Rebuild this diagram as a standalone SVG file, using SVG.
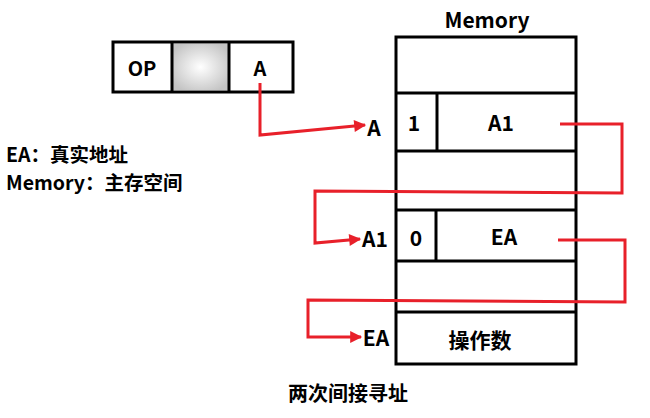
<svg xmlns="http://www.w3.org/2000/svg" width="650" height="418" viewBox="0 0 650 418">
<style>
.t{font-family:"Noto Sans CJK SC","Noto Sans",sans-serif;font-weight:bold;fill:#000;}
.c{text-anchor:middle;}
.box{fill:#fff;stroke:#000;stroke-width:3;}
.ln{stroke:#000;stroke-width:3;fill:none;}
.r{stroke:#e8202a;stroke-width:3;fill:none;stroke-linejoin:miter;}
</style>
<defs>
<radialGradient id="g" cx="50%" cy="50%" r="60%">
<stop offset="0" stop-color="#ffffff"/>
<stop offset="1" stop-color="#c4c4c4"/>
</radialGradient>
<marker id="ar" viewBox="0 0 10 10" refX="9" refY="5" markerWidth="4.5" markerHeight="4" orient="auto" markerUnits="strokeWidth">
<path d="M0,0 L10,5 L0,10 z" fill="#e8202a"/>
</marker>
</defs>
<g id="instruction">
<rect class="box" x="113" y="42" width="180" height="50"/>
<rect x="173" y="44" width="55" height="46" fill="url(#g)"/>
<line class="ln" x1="172" y1="42" x2="172" y2="92"/>
<line class="ln" x1="229" y1="42" x2="229" y2="92"/>
<text class="t c" x="142" y="76" font-size="20">OP</text>
<text class="t c" x="260" y="76" font-size="20">A</text>
</g>
<g id="legend">
<text class="t" x="6" y="162" font-size="19.5">EA：真实地址</text>
<text class="t" x="6" y="190" font-size="19.5">Memory：主存空间</text>
</g>
<g id="memory">
<text class="t c" x="487" y="28" font-size="21">Memory</text>
<rect class="box" x="396" y="37" width="180" height="327"/>
<line class="ln" x1="396" y1="93" x2="576" y2="93"/>
<line class="ln" x1="396" y1="151" x2="576" y2="151"/>
<line class="ln" x1="396" y1="210" x2="576" y2="210"/>
<line class="ln" x1="396" y1="261" x2="576" y2="261"/>
<line class="ln" x1="396" y1="312" x2="576" y2="312"/>
<line class="ln" x1="437" y1="93" x2="437" y2="151"/>
<line class="ln" x1="436" y1="210" x2="436" y2="261"/>
<text class="t c" x="414" y="131" font-size="21">1</text>
<text class="t c" x="501" y="131" font-size="21">A1</text>
<text class="t c" x="416" y="246" font-size="21">0</text>
<text class="t c" x="504" y="245" font-size="21">EA</text>
<text class="t c" x="480" y="348" font-size="21">操作数</text>
</g>
<g id="labels">
<text class="t c" x="374" y="136" font-size="21">A</text>
<text class="t c" x="375" y="247" font-size="21">A1</text>
<text class="t c" x="376" y="346" font-size="21">EA</text>
<text class="t c" x="348" y="401" font-size="20">两次间接寻址</text>
</g>
<g id="connectors">
<path class="r" d="M260,83 L260,135 L365,125" marker-end="url(#ar)"/>
<path class="r" d="M560,124 L622,124 L622,193 L315,191 L315,243 L360,239" marker-end="url(#ar)"/>
<path class="r" d="M558,240 L625,240 L625,302 L308,300 L308,337 L361,337" marker-end="url(#ar)"/>
</g>
</svg>
